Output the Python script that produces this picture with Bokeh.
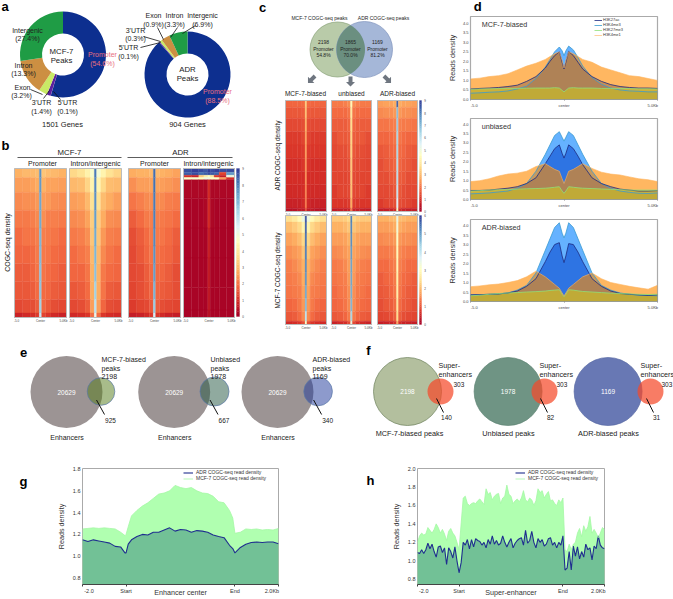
import numpy as np
from bokeh.embed import file_html
from bokeh.resources import INLINE
from bokeh.plotting import figure
from bokeh.layouts import column, row
from bokeh.core.properties import value
from bokeh.models import ColumnDataSource, LinearColorMapper, Range1d, FixedTicker, Legend, LegendItem
from bokeh.transform import transform
from bokeh.palettes import RdYlBu

# ---------- values ----------
pie_labels = ["Promoter", "5'UTR", "3'UTR", "Exon", "Intron", "Intergenic"]
pie_mcf7 = [54.6, 0.1, 1.4, 3.2, 13.3, 27.4]
pie_adr = [88.5, 0.1, 0.3, 0.9, 3.3, 6.9]

B1 = [[2.8,2.9,2.9,3.0,7.6,3.1,3.0,2.9,2.8],[2.5,2.5,2.6,2.7,7.5,2.8,2.6,2.6,2.5],[2.2,2.3,2.3,2.4,7.3,2.5,2.4,2.3,2.2],
      [2.0,2.0,2.1,2.2,7.2,2.3,2.1,2.1,2.0],[1.8,1.9,1.9,2.1,7.0,2.1,2.0,1.9,1.8],[1.7,1.7,1.8,2.0,6.9,2.0,1.9,1.8,1.7],
      [1.6,1.6,1.7,1.9,6.8,1.9,1.8,1.7,1.6],[1.5,1.5,1.6,1.8,6.7,1.8,1.7,1.6,1.5],[1.3,1.4,1.4,1.6,6.4,1.7,1.5,1.4,1.3],
      [0.7,0.8,0.9,1.1,5.8,1.2,1.0,0.8,0.7]]
B2 = [[3.5,3.7,4.1,4.7,8.0,4.8,4.2,3.7,3.4],[2.9,3.0,3.4,4.2,7.8,4.2,3.5,3.0,2.9],[2.5,2.6,2.9,3.7,7.6,3.7,3.0,2.7,2.5],
      [2.2,2.3,2.6,3.3,7.4,3.3,2.7,2.3,2.2],[2.0,2.1,2.3,3.1,7.2,3.1,2.4,2.1,2.0],[1.8,1.9,2.1,2.9,7.0,2.9,2.2,1.9,1.8],
      [1.7,1.7,1.9,2.8,6.8,2.8,2.0,1.8,1.7],[1.5,1.6,1.8,2.7,6.4,2.7,1.9,1.6,1.5],[1.3,1.4,1.6,2.5,6.0,2.5,1.7,1.4,1.3],
      [0.8,0.9,1.0,1.8,5.2,1.8,1.0,0.9,0.8]]
B3 = [[2.7,2.8,2.8,2.9,8.2,2.9,2.8,2.7,2.6],[2.3,2.5,2.5,2.6,8.1,2.6,2.5,2.4,2.3],[1.9,2.1,2.2,2.3,8.0,2.3,2.2,2.1,2.0],
      [1.6,1.8,2.0,2.1,7.9,2.1,2.0,1.9,1.8],[1.4,1.6,1.8,2.0,7.8,2.0,1.9,1.8,1.6],[1.3,1.5,1.7,1.9,7.6,1.9,1.8,1.7,1.5],
      [1.3,1.4,1.6,1.8,7.4,1.8,1.7,1.6,1.4],[1.2,1.4,1.5,1.7,7.1,1.7,1.6,1.5,1.4],[1.1,1.2,1.3,1.5,6.6,1.6,1.4,1.3,1.2],
      [0.6,0.7,0.8,1.0,5.6,1.0,0.8,0.7,0.6]]
B4 = [[8.6,8.8,8.7,8.5,8.8,8.6,8.8,8.6,8.7],[8.4,8.6,8.2,8.4,8.6,8.5,8.3,1.2,7.5],[0.9,0.7,3.2,4.0,4.6,3.8,1.0,0.6,5.0],
      [4.6,4.7,4.5,5.0,5.0,4.6,4.5,2.5,0.9],[0.2,0.2,0.2,0.2,0.9,0.2,0.2,0.2,0.2],[0.1,0.1,0.1,0.2,0.9,0.2,0.1,0.1,0.1],
      [0.1,0.1,0.1,0.1,0.7,0.1,0.1,0.1,0.1],[0.1,0.1,0.1,0.1,0.6,0.1,0.1,0.1,0.1],[0.1,0.1,0.1,0.1,0.5,0.1,0.1,0.1,0.1],
      [0.1,0.1,0.1,0.1,0.4,0.1,0.1,0.1,0.1]]
C1 = [[1.7,1.7,1.7,1.8,3.2,1.8,1.7,1.7,1.7],[1.5,1.5,1.5,1.6,3.0,1.6,1.5,1.5,1.5],[1.3,1.3,1.3,1.4,2.7,1.4,1.3,1.3,1.3],
      [1.1,1.1,1.1,1.2,2.5,1.2,1.1,1.1,1.1],[1.0,1.0,1.0,1.1,2.4,1.1,1.0,1.0,1.0],[0.9,0.9,0.9,1.0,2.3,1.0,0.9,0.9,0.9],
      [0.9,0.9,0.9,0.9,2.2,0.9,0.9,0.9,0.9],[0.8,0.8,0.8,0.9,2.1,0.9,0.8,0.8,0.8],[0.7,0.7,0.7,0.8,1.9,0.8,0.7,0.7,0.7],
      [0.4,0.4,0.5,0.5,1.4,0.5,0.5,0.4,0.4]]
C2 = [[2.0,2.0,2.1,2.2,4.4,2.2,2.1,2.0,2.0],[1.8,1.8,1.8,1.9,4.0,1.9,1.8,1.8,1.8],[1.6,1.6,1.6,1.7,3.7,1.7,1.6,1.6,1.6],
      [1.4,1.5,1.5,1.6,3.5,1.6,1.5,1.5,1.4],[1.3,1.4,1.4,1.5,3.4,1.5,1.4,1.4,1.3],[1.2,1.3,1.3,1.4,3.3,1.4,1.3,1.3,1.2],
      [1.2,1.2,1.2,1.3,3.2,1.3,1.2,1.2,1.2],[1.1,1.2,1.2,1.3,3.1,1.3,1.2,1.2,1.1],[1.0,1.0,1.0,1.1,2.8,1.1,1.0,1.0,1.0],
      [0.5,0.6,0.6,0.7,2.1,0.7,0.6,0.6,0.5]]
C3 = [[2.5,2.6,2.6,2.7,8.3,2.7,2.6,2.6,2.5],[2.2,2.3,2.3,2.4,6.8,2.4,2.3,2.3,2.2],[1.9,1.9,2.0,2.1,6.5,2.1,2.0,2.0,1.9],
      [1.7,1.7,1.8,1.9,6.3,1.9,1.8,1.7,1.7],[1.5,1.6,1.7,1.8,6.2,1.8,1.7,1.6,1.5],[1.4,1.5,1.6,1.7,6.1,1.7,1.6,1.5,1.4],
      [1.4,1.4,1.5,1.6,6.0,1.6,1.5,1.4,1.4],[1.3,1.3,1.4,1.5,5.8,1.5,1.4,1.3,1.3],[1.1,1.2,1.3,1.4,5.4,1.4,1.3,1.2,1.1],
      [0.6,0.6,0.7,0.8,4.6,0.8,0.7,0.6,0.6]]
C4 = [[3.6,3.9,4.3,5.0,8.6,5.0,4.3,3.9,3.6],[3.0,3.2,3.5,4.2,8.4,4.2,3.5,3.2,3.0],[2.6,2.7,3.0,3.5,8.2,3.5,3.0,2.7,2.6],
      [2.3,2.4,2.6,3.1,8.0,3.1,2.6,2.4,2.3],[2.1,2.2,2.4,2.8,7.8,2.8,2.4,2.2,2.1],[2.0,2.1,2.2,2.7,7.6,2.7,2.2,2.1,2.0],
      [1.9,2.0,2.1,2.6,7.3,2.6,2.1,2.0,1.9],[1.7,1.8,2.0,2.4,6.9,2.4,2.0,1.8,1.7],[1.5,1.6,1.8,2.2,6.0,2.2,1.8,1.6,1.5],
      [0.8,0.9,1.0,1.4,4.6,1.4,1.0,0.9,0.8]]
C5 = [[3.2,3.2,3.3,3.5,7.9,3.5,3.3,3.2,3.2],[2.8,2.8,2.9,3.1,7.8,3.1,2.9,2.8,2.8],[2.5,2.5,2.6,2.8,7.6,2.8,2.6,2.5,2.5],
      [2.2,2.3,2.4,2.6,7.4,2.6,2.4,2.3,2.2],[2.0,2.1,2.2,2.5,7.3,2.5,2.2,2.1,2.0],[1.9,2.0,2.1,2.4,7.2,2.4,2.1,2.0,1.9],
      [1.8,1.9,2.0,2.3,7.1,2.3,2.0,1.9,1.8],[1.7,1.8,1.9,2.2,6.9,2.2,1.9,1.8,1.7],[1.5,1.6,1.7,2.0,6.3,2.0,1.7,1.6,1.5],
      [0.7,0.8,0.9,1.3,5.0,1.3,0.9,0.8,0.7]]
C6 = [[2.8,2.8,2.9,3.0,5.2,3.0,2.9,2.8,2.8],[2.5,2.5,2.6,2.7,4.9,2.7,2.6,2.5,2.5],[2.2,2.3,2.3,2.4,4.6,2.4,2.3,2.3,2.2],
      [2.0,2.0,2.1,2.2,4.4,2.2,2.1,2.0,2.0],[1.8,1.8,1.9,2.1,4.3,2.1,1.9,1.8,1.8],[1.6,1.7,1.8,2.0,4.2,2.0,1.8,1.7,1.6],
      [1.5,1.6,1.7,1.9,4.1,1.9,1.7,1.6,1.5],[1.4,1.5,1.6,1.8,3.9,1.8,1.6,1.5,1.4],[1.2,1.3,1.4,1.6,3.6,1.6,1.4,1.3,1.2],
      [0.6,0.7,0.7,0.9,2.7,0.9,0.7,0.7,0.6]]

d_x = [-5,-4.5,-4,-3.5,-3,-2.5,-2,-1.5,-1,-.75,-.5,-.25,-.1,0,.1,.25,.5,.75,1,1.5,2,2.5,3,3.5,4,4.5,5]
d1_ac   = [.55,.58,.6,.63,.68,.75,.95,1.2,1.65,2.0,2.3,2.5,1.95,1.6,1.95,2.52,2.3,1.95,1.6,1.2,.95,.78,.68,.63,.6,.6,.58]
d1_me3k4 = [.33,.35,.38,.4,.45,.55,.7,1.1,1.7,2.1,2.5,2.75,2.55,2.3,2.55,2.8,2.6,2.2,1.75,1.15,.8,.6,.5,.45,.43,.4,.4]
d1_me3k27 = [.53,.55,.56,.57,.58,.58,.59,.6,.6,.6,.62,.6,.48,.4,.48,.6,.62,.6,.6,.6,.58,.58,.58,.57,.56,.56,.55]
d1_me1  = [1.08,1.12,1.2,1.25,1.35,1.55,1.75,1.9,2.1,2.25,2.4,2.5,2.05,1.65,2.05,2.5,2.4,2.25,2.1,1.95,1.7,1.55,1.4,1.25,1.2,1.1,1.0]
d2_ac   = [.48,.48,.5,.55,.6,.68,.85,1.15,1.9,2.3,2.7,2.9,2.45,2.2,2.45,2.9,2.7,2.3,1.85,1.15,.85,.68,.55,.5,.45,.45,.47]
d2_me3k4 = [.3,.32,.35,.4,.45,.6,.85,1.5,2.4,2.9,3.4,3.6,3.3,3.1,3.3,3.6,3.4,2.9,2.4,1.5,.85,.6,.45,.38,.33,.32,.35]
d2_me3k27 = [.45,.47,.5,.52,.53,.55,.57,.58,.6,.62,.65,.68,.45,.33,.45,.68,.65,.62,.6,.58,.56,.54,.52,.5,.5,.5,.5]
d2_me1  = [.95,1.0,1.1,1.25,1.35,1.4,1.5,1.75,1.9,1.75,1.6,1.5,1.1,.85,1.1,1.5,1.6,1.75,1.9,1.65,1.45,1.35,1.3,1.2,1.1,1.05,.95]
d3_ac   = [.35,.36,.38,.4,.45,.55,.8,1.2,2.1,2.6,3.0,3.1,2.4,2.05,2.4,3.05,3.0,2.6,2.1,1.2,.8,.55,.42,.38,.35,.32,.35]
d3_me3k4 = [.35,.36,.38,.4,.45,.6,.85,1.5,2.7,3.3,3.9,4.15,3.6,3.35,3.6,4.15,3.9,3.3,2.7,1.5,.85,.6,.45,.38,.33,.32,.3]
d3_me3k27 = [.3,.33,.38,.42,.45,.47,.5,.52,.55,.58,.6,.62,.38,.25,.38,.62,.6,.56,.53,.5,.47,.44,.42,.4,.38,.37,.38]
d3_me1  = [.78,.82,.88,.92,1.0,1.1,1.3,1.6,1.3,1.1,.9,.7,.45,.3,.45,.7,.9,1.1,1.3,1.5,1.2,1.0,.9,.8,.72,.65,.85]

g_x = [-2,-1.75,-1.5,-1.25,-1,-.75,-.5,-.25,-.05,0,.1,.25,.5,.75,1,1.25,1.5,1.75,2,2.25,2.5,2.75,3,3.25,3.5,3.75,4,4.25,4.5,4.75,4.9,5,5.25,5.5,5.75,6,6.25,6.5,6.75,7]
g_mcf = [1.25,1.255,1.26,1.255,1.26,1.255,1.25,1.22,1.19,1.2,1.27,1.37,1.42,1.46,1.49,1.53,1.57,1.58,1.6,1.65,1.63,1.62,1.63,1.6,1.58,1.575,1.55,1.5,1.49,1.42,1.35,1.21,1.22,1.25,1.245,1.25,1.24,1.245,1.24,1.255]
g_adr = [1.15,1.135,1.15,1.14,1.13,1.12,1.09,1.085,1.03,1.03,1.11,1.15,1.18,1.2,1.195,1.22,1.22,1.24,1.26,1.23,1.245,1.24,1.22,1.235,1.23,1.22,1.195,1.18,1.17,1.1,1.07,1.03,1.08,1.11,1.125,1.13,1.125,1.13,1.13,1.115]

h_x = [round(-2 + i * 0.1, 1) for i in range(91)]
h_mcf = [1.2,1.27,1.3,1.28,1.29,1.36,1.33,1.3,1.34,1.4,1.36,1.3,1.34,1.29,1.22,1.32,1.35,1.3,1.27,1.2,1.12,
         1.4,1.68,1.7,1.62,1.6,1.62,1.63,1.62,1.65,1.67,1.64,1.61,1.78,1.72,1.74,1.66,1.7,1.72,1.73,1.62,1.68,1.7,1.82,1.72,1.7,1.62,1.65,1.67,1.64,1.68,1.76,1.66,1.64,1.68,1.66,1.6,1.65,1.78,1.74,1.76,1.68,1.72,1.75,1.65,1.66,1.62,1.6,1.66,1.63,1.68,
         1.12,1.1,1.18,1.12,1.18,1.2,1.3,1.35,1.26,1.38,1.32,1.37,1.48,1.3,1.34,1.3,1.25,1.3,1.36,1.34]
h_adr = [1.09,1.08,1.12,1.08,1.12,1.19,1.13,1.18,1.1,1.04,1.15,1.16,1.09,1.14,.96,1.14,1.1,1.03,1.15,1.0,.87,
         .98,1.2,1.17,1.23,1.13,1.23,1.15,1.24,1.22,1.21,1.17,1.2,1.14,1.23,1.18,1.27,1.18,1.22,1.17,1.19,1.27,1.2,1.15,1.2,1.24,1.14,1.19,1.22,1.24,1.25,1.17,1.33,1.19,1.22,1.32,1.2,1.14,1.24,1.2,1.23,1.16,1.18,1.24,1.25,1.17,1.2,1.14,1.2,1.17,1.27,
         .9,.92,1.1,.9,1.16,1.05,1.15,1.02,1.1,1.04,1.18,1.12,1.14,1.01,1.16,1.13,1.27,1.17,1.14,1.13]

# ---------- styles ----------
FONT = value("Liberation Sans")
pie_colors = ["#0d2f8f", "#6b2fa0", "#5b1f9e", "#c9ea66", "#cc8f42", "#1f9c45"]
PINK = "#e8707f"
rb = list(RdYlBu[11])[::-1]
def _hex(c): return [int(c[i:i+2], 16) for i in (1, 3, 5)]
_rgb = np.array([_hex(c) for c in rb], float)
_t = np.linspace(0, 10, 128)
palette = ["#%02x%02x%02x" % tuple(int(round(np.interp(t, range(11), _rgb[:, k]))) for k in range(3)) for t in _t]
mapper = LinearColorMapper(palette=palette, low=0, high=9)
COL_KB = [-5, -3.4, -2, -1, -.22, .22, 1, 2, 3.4, 5]
ROW_F = [0, .06, .16, .28, .4, .52, .64, .76, .88, .97, 1]
ROW_B4 = [0, .025, .045, .06, .075, .2, .4, .6, .8, .95, 1]


def txt(f, x, y, s, size=7, color="#222222", align="center", baseline="middle", angle=0, bold=False):
    f.text([x], [y], text=[s], text_font=FONT, text_font_size=f"{size}px", text_color=color,
           text_align=align, text_baseline=baseline, angle=angle,
           text_font_style="bold" if bold else "normal")


def seg(f, x0, y0, x1, y1, color="#111111", w=0.8):
    f.segment([x0], [y0], [x1], [y1], line_color=color, line_width=w)


def canvas(x0, x1, y0, y1):
    f = figure(width=x1 - x0, height=y1 - y0, x_range=Range1d(x0, x1), y_range=Range1d(y1, y0),
               output_backend="svg", toolbar_location=None, min_border=0)
    f.axis.visible = False
    f.grid.visible = False
    f.outline_line_color = None
    return f


def heat(f, mat, x0, x1, y0, y1, rows=ROW_F):
    L, R, T, B, V = [], [], [], [], []
    for i, r in enumerate(mat):
        for j, v in enumerate(r):
            L.append(x0 + (COL_KB[j] + 5) / 10 * (x1 - x0))
            R.append(x0 + (COL_KB[j + 1] + 5) / 10 * (x1 - x0))
            T.append(y0 + rows[i] * (y1 - y0))
            B.append(y0 + rows[i + 1] * (y1 - y0))
            V.append(v)
    src = ColumnDataSource(dict(l=L, r=R, t=T, b=B, v=V))
    tr = transform("v", mapper)
    f.quad(left="l", right="r", top="t", bottom="b", source=src, fill_color=tr, line_color=tr, line_width=0.3)
    f.quad(left=[x0], right=[x1], top=[y0], bottom=[y1], fill_color=None, line_color="#bbbbbb", line_width=1)
    ly = y1 + 3
    txt(f, x0 + 2, ly, "-5.0", 3, "#444444")
    txt(f, (x0 + x1) / 2, ly, "Center", 3, "#444444")
    txt(f, x1 - 3, ly, "5.0Kb", 3, "#444444")


def cbar(f, x0, x1, y0, y1, labels):
    vals = [9 * i / 60 for i in range(60)]
    h = (y1 - y0) / 60
    src = ColumnDataSource(dict(l=[x0] * 60, r=[x1] * 60, t=[y1 - (i + 1) * h for i in range(60)],
                                b=[y1 - i * h for i in range(60)], v=vals))
    tr = transform("v", mapper)
    f.quad(left="l", right="r", top="t", bottom="b", source=src, fill_color=tr, line_color=tr, line_width=0.3)
    for i, s in enumerate(labels):
        txt(f, x1 + 3.5, y1 - i * (y1 - y0) / (len(labels) - 1), s, 3, "#444444")


def donut(f, cx, cy, vals, R, r):
    a = np.cumsum([0] + vals) / sum(vals) * 2 * np.pi
    f.annular_wedge([cx] * len(vals), [cy] * len(vals), r, R, list(np.pi / 2 - a[:-1]), list(np.pi / 2 - a[1:]),
                    direction="clock", fill_color=pie_colors, line_color=None)


def lens(f, x1, r1, x2, r2, y, color):
    d = x2 - x1
    a = (d * d + r1 * r1 - r2 * r2) / (2 * d)
    h = np.sqrt(r1 * r1 - a * a)
    t1 = np.arctan2(h, a)
    t2 = np.arctan2(h, d - a)
    s1 = np.linspace(-t1, t1, 30)
    s2 = np.linspace(np.pi - t2, np.pi + t2, 30)
    f.patch(list(x1 + r1 * np.cos(s1)) + list(x2 + r2 * np.cos(s2)),
            list(y + r1 * np.sin(s1)) + list(y + r2 * np.sin(s2)), fill_color=color, line_color=None)


# ---------- left block: panels a, b, c ----------
top = canvas(0, 441, 0, 338)
donut(top, 62.5, 54, pie_mcf7, 43, 21)
donut(top, 187, 74, pie_adr, 43, 21)
txt(top, 1, 6, "a", 13, "#000000", "left", bold=True)
for x, y, s, c in [(27, 30, "Intergenic", None), (27, 38, "(27.4%)", None), (102, 54, "Promoter", PINK), (102, 63, "(54.6%)", PINK),
                   (23, 65, "Intron", None), (23, 73, "(13.3%)", None), (22, 87, "Exon", None), (21, 95, "(3.2%)", None),
                   (41, 102, "3'UTR", None), (41, 111, "(1.4%)", None), (67, 102, "5'UTR", None), (67, 111, "(0.1%)", None),
                   (153, 15, "Exon", None), (153, 24, "(0.9%)", None), (174, 15, "Intron", None), (174, 24, "(3.3%)", None),
                   (202, 15, "Intergenic", None), (202, 24, "(6.9%)", None), (135, 30, "3'UTR", None), (135, 38, "(0.3%)", None),
                   (128, 47, "5'UTR", None), (128, 56, "(0.1%)", None), (217, 91, "Promoter", PINK), (217, 100, "(88.5%)", PINK)]:
    txt(top, x, y, s, 7, c or "#222222")
for x, y, s in [(61, 51, "MCF-7"), (61, 60, "Peaks"), (187, 69, "ADR"), (187, 78, "Peaks")]:
    txt(top, x, y, s, 7.8)
txt(top, 62, 124, "1501 Genes", 7.5)
txt(top, 187, 124, "904 Genes", 7.5)
for c in [(30, 89, 42, 94), (43, 98, 49, 90), (60, 99, 53, 91), (157, 27, 163, 39), (177, 27, 170, 37), (195, 25, 182, 33),
          (143, 36, 160, 41), (140, 47, 160, 42)]:
    seg(top, *c)

txt(top, 1, 145, "b", 13, "#000000", "left", bold=True)
txt(top, 69, 152, "MCF-7", 7.8)
txt(top, 180, 152, "ADR", 7.8)
seg(top, 17, 157, 121, 157, "#333333", 0.8)
seg(top, 127, 157, 232, 157, "#333333", 0.8)
for x, s in [(42, "Promoter"), (95, "Intron/intergenic"), (154, "Promoter"), (208, "Intron/intergenic")]:
    txt(top, x, 163, s, 7)
txt(top, 7, 242, "COGC-seq density", 7, angle=np.pi / 2)
heat(top, B1, 14, 66, 168, 317)
heat(top, B2, 69, 121, 168, 317)
heat(top, B3, 128, 180, 168, 317)
heat(top, B4, 183, 234, 168, 317, ROW_B4)
cbar(top, 236, 239, 168, 316, [str(i) for i in range(10)])

txt(top, 262, 7, "c", 13, "#000000", bold=True)
txt(top, 319, 17, "MCF-7 COGC-seq peaks", 5)
txt(top, 383, 17, "ADR COGC-seq peaks", 5)
top.circle([337], [49], radius=27.5, fill_color="#b9cba9", line_color="#8aa27a", line_width=0.7)
top.circle([364], [49], radius=28, fill_color="#a5b7d8", line_color="#7f94bd", line_width=0.7)
lens(top, 337, 27.5, 364, 28, 49, "#6b8f80")
for x, ls in [(323, ["2198", "Promoter", "54.8%"]), (350, ["1865", "Promoter", "70.0%"]), (377, ["1169", "Promoter", "81.2%"])]:
    for y, s in zip([41, 48, 54], ls):
        txt(top, x, y, s, 5)
for cx, cy, ang in [(311, 79, 225), (350, 81, 270), (387, 79, 315)]:
    t = np.deg2rad(ang)
    u = np.array([np.cos(t), -np.sin(t)])
    v_ = np.array([-u[1], u[0]])
    pts = [(-5, -2), (0.5, -2), (0.5, -4.5), (5, 0), (0.5, 4.5), (0.5, 2), (-5, 2)]
    top.patch([cx + a * u[0] + b * v_[0] for a, b in pts], [cy + a * u[1] + b * v_[1] for a, b in pts],
              fill_color="#6f7680", line_color=None)
for x, s in [(305, "MCF-7-biased"), (351, "unbiased"), (397, "ADR-biased")]:
    txt(top, x, 93, s, 6.5)
txt(top, 277, 155, "ADR COGC-seq density", 6.5, angle=np.pi / 2)
txt(top, 277, 270, "MCF-7 COGC-seq density", 6.5, angle=np.pi / 2)
heat(top, C1, 285, 326, 100, 211)
heat(top, C2, 331, 371, 100, 211)
heat(top, C3, 377, 417, 100, 211)
heat(top, C4, 285, 326, 215, 324)
heat(top, C5, 331, 371, 215, 324)
heat(top, C6, 377, 417, 215, 324)
cbar(top, 419, 421, 100, 211, [str(i) for i in range(10)])
cbar(top, 419, 421, 215, 324, [str(i) for i in range(7)])


# ---------- panel d ----------
d_head = canvas(441, 673, 0, 14)
txt(d_head, 450, 6, "d", 13, "#000000", bold=True)


def dpanel(title, y_max, h, b_top, b_bottom, ac, k4, k27, me1, legend=False):
    f = figure(width=232, height=h, x_range=Range1d(-5, 5), y_range=Range1d(0, y_max), output_backend="svg",
               toolbar_location=None, min_border_left=29, min_border_right=16, min_border_top=b_top, min_border_bottom=b_bottom)
    base = [0] * len(d_x)
    f.varea(d_x, base, k4, fill_color="#3a9cff", fill_alpha=0.78)
    f.varea(d_x, base, ac, fill_color="#0a4bd0", fill_alpha=0.6)
    f.varea(d_x, base, me1, fill_color="#ff8a00", fill_alpha=0.62)
    f.varea(d_x, base, k27, fill_color="#d9e60a", fill_alpha=0.4)
    l1 = f.line(d_x, k4, line_color="#3a9ad0", line_width=0.8)
    l2 = f.line(d_x, ac, line_color="#1c2a80", line_width=0.8)
    l3 = f.line(d_x, k27, line_color="#8fe07a", line_width=0.8)
    l4 = f.line(d_x, me1, line_color="#ffb45c", line_width=0.6)
    f.grid.visible = False
    f.outline_line_color = "#aaaaaa"
    f.outline_line_width = 1.2
    f.yaxis.ticker = FixedTicker(ticks=[0, .5, 1, 1.5, 2, 2.5, 3, 3.5, 4])
    f.yaxis.major_label_overrides = {0: "0.0", 0.5: "0.5", 1: "1.0", 1.5: "1.5", 2: "2.0", 2.5: "2.5", 3: "3.0", 3.5: "3.5", 4: "4.0"}
    f.xaxis.ticker = FixedTicker(ticks=[-4.8, 0, 4.75], minor_ticks=[-5, 0, 5])
    f.xaxis.major_label_overrides = {-4.8: "-5.0", 0: "center", 4.75: "5.0Kb"}
    for ax in (f.xaxis[0], f.yaxis[0]):
        ax.axis_line_color = None
        ax.major_label_text_font = "Liberation Sans"
        ax.major_label_text_font_size = "4px"
        ax.major_label_text_color = "#444444"
        ax.major_label_standoff = 2
        ax.major_tick_out = 0
        ax.major_tick_in = 0
    f.xaxis.major_tick_line_color = None
    f.xaxis.minor_tick_line_color = "#888888"
    f.xaxis.minor_tick_out = 1
    f.xaxis.minor_tick_in = 0
    f.yaxis.major_tick_line_color = None
    f.yaxis.minor_tick_line_color = None
    f.yaxis.axis_label = "Reads density"
    f.yaxis.axis_label_text_font = "Liberation Sans"
    f.yaxis.axis_label_text_font_style = "normal"
    f.yaxis.axis_label_text_font_size = "7.3px"
    f.yaxis.axis_label_text_color = "#333333"
    f.yaxis.axis_label_standoff = 3
    f.text([-4.4], [y_max - 0.42], text=[title], text_font=FONT, text_font_size="7.2px", text_color="#333333",
           text_baseline="middle")
    if legend:
        lg = Legend(items=[LegendItem(label="H3K27ac", renderers=[l2]), LegendItem(label="H3K4me3", renderers=[l1]),
                           LegendItem(label="H3K27me3", renderers=[l3]), LegendItem(label="H3K4me1", renderers=[l4])],
                    location=(124, 62), background_fill_alpha=0, border_line_color=None, padding=0, margin=0, spacing=0,
                    glyph_height=4, glyph_width=8, label_height=4, label_standoff=1, label_text_font_size="4px",
                    label_text_font="Liberation Sans", label_text_color="#333333", label_text_line_height=1.0)
        f.add_layout(lg, "center")
    return f


d1 = dpanel("MCF-7-biased", 4.35, 96, 2, 11, d1_ac, d1_me3k4, d1_me3k27, d1_me1, legend=True)
d2 = dpanel("unbiased", 4.30, 100, 8, 10, d2_ac, d2_me3k4, d2_me3k27, d2_me1)
d3 = dpanel("ADR-biased", 4.32, 128, 9, 37, d3_ac, d3_me3k4, d3_me3k27, d3_me1)

# ---------- panels e, f ----------
mid = canvas(0, 673, 338, 446)
txt(mid, 23, 352, "e", 13, "#000000", bold=True)
txt(mid, 368, 350, "f", 13, "#000000", bold=True)
for bx, sx, sr, col, lab, tot, ov, lx in [(66, 100.5, 13.8, "#517915", "MCF-7-biased", "2198", "925", 101),
                                          (173.7, 214, 14.5, "#22553f", "Unbiased", "1978", "667", 210),
                                          (277, 317.6, 14.3, "#1c3599", "ADR-biased", "1169", "340", 312)]:
    mid.circle([bx], [391.5], radius=36, fill_color="#9c9494", line_color=None)
    mid.circle([sx], [391], radius=sr, fill_color=col, fill_alpha=0.5, line_color="#5a78a8", line_width=0.7)
    txt(mid, bx, 391.5, "20629", 6.5, "#ffffff")
    txt(mid, lx, 359, lab, 7, align="left")
    txt(mid, lx, 368, "peaks", 7, align="left")
    txt(mid, lx, 376, tot, 7, align="left")
    txt(mid, sx + 9.5, 419.5, ov, 6.5)
    seg(mid, sx - 4.5, 399.5, sx + 3.5, 414, "#111111", 1)
    txt(mid, bx + 0.5, 437, "Enhancers", 7)
for bx, r, col, edge, tot, sx, ov, name, nx, lx, n3 in [
        (407, 34, "#b3bf9e", "#6b7f5a", "2198", 440, "140", "MCF-7-biased peaks", 409, 438, 453),
        (507.6, 34, "#6f9484", "#5f8474", "1978", 544, "82", "Unbiased peaks", 508, 539, 556),
        (607.6, 34, "#6878b4", "#5868a4", "1169", 650, "31", "ADR-biased peaks", 608, 640, 661)]:
    mid.circle([bx], [391], radius=r, fill_color=col, line_color=edge, line_width=0.7)
    mid.circle([sx], [391], radius=13, fill_color="#f5492a", fill_alpha=0.72, line_color=None)
    txt(mid, bx, 391, tot, 6.5, "#ffffff")
    txt(mid, lx, 365, "Super-", 7.2, align="left")
    txt(mid, lx, 374, "enhancers", 7.2, align="left")
    txt(mid, n3, 384, "303", 6.5, align="left")
    txt(mid, sx + 6, 417, ov, 6.5)
    seg(mid, sx - 4, 398, sx + 3, 412, "#111111", 1)
    txt(mid, nx, 433, name, 7.3)


# ---------- panels g, h ----------
g_side = canvas(0, 45, 446, 599)
txt(g_side, 23, 463, "g", 13, "#000000", bold=True)
h_side = canvas(336, 385, 446, 599)
txt(h_side, 370, 462, "h", 13, "#000000", bold=True)


def body(x, mcf, adr, w, left, right, y_lo, y_hi, yticks, xlabel, leg_x):
    f = figure(width=w, height=153, x_range=Range1d(-2, 7), y_range=Range1d(y_lo, y_hi), output_backend="svg",
               toolbar_location=None, min_border_left=left, min_border_right=right, min_border_top=22, min_border_bottom=15)
    base = [0] * len(x)
    f.varea(x, base, mcf, fill_color="#b0ffb0")
    f.varea(x, base, adr, fill_color="#72c196")
    l1 = f.line(x, adr, line_color="#1f2e8f", line_width=1.1)
    l2 = f.line(x, mcf, line_color="#a4f8a4", line_width=0.8)
    f.grid.visible = False
    f.outline_line_color = "#aaaaaa"
    f.outline_line_width = 1
    f.yaxis.ticker = FixedTicker(ticks=yticks)
    f.yaxis.major_label_overrides = {t: f"{t:.1f}" for t in yticks}
    f.xaxis.ticker = FixedTicker(ticks=[-1.7, 0, 5, 6.7], minor_ticks=[-2, 0, 5, 7])
    f.xaxis.major_label_overrides = {-1.7: "-2.0", 0: "Start", 5: "End", 6.7: "2.0Kb"}
    for ax in (f.xaxis[0], f.yaxis[0]):
        ax.major_label_text_font = "Liberation Sans"
        ax.major_label_text_font_size = "5.5px"
        ax.major_label_text_color = "#333333"
        ax.major_label_standoff = 1
        ax.major_tick_out = 0
        ax.major_tick_in = 0
        ax.axis_label_text_font = "Liberation Sans"
        ax.axis_label_text_font_style = "normal"
        ax.axis_label_text_font_size = "7.2px"
        ax.axis_label_text_color = "#333333"
    f.yaxis.major_label_standoff = 2
    f.yaxis.axis_line_color = None
    f.yaxis.major_tick_line_color = None
    f.yaxis.minor_tick_line_color = None
    f.yaxis.axis_label = "Reads density"
    f.yaxis.axis_label_standoff = 4
    f.xaxis.axis_line_color = "#444444"
    f.xaxis.major_tick_line_color = None
    f.xaxis.minor_tick_line_color = "#444444"
    f.xaxis.minor_tick_out = 2
    f.xaxis.minor_tick_in = 0
    f.xaxis.axis_label = xlabel
    f.xaxis.axis_label_standoff = -9
    lg = Legend(items=[LegendItem(label="ADR COGC-seq read density", renderers=[l1]),
                       LegendItem(label="MCF-7 COGC-seq read density", renderers=[l2])],
                location=(leg_x, 103), background_fill_alpha=0, border_line_color=None, padding=0, margin=0, spacing=0,
                glyph_height=5, glyph_width=10, label_height=5, label_standoff=3, label_text_font_size="5px",
                label_text_font="Liberation Sans", label_text_color="#333333", label_text_line_height=1.0)
    f.add_layout(lg, "center")
    return f


g = body(g_x, g_mcf, g_adr, 291, 37, 58, 0.74, 1.805, [.8, 1.0, 1.2, 1.4, 1.6, 1.8], "Enhancer center", 101)
h = body(h_x, h_mcf, h_adr, 288, 32, 69, 0.743, 2.0, [.8, 1.0, 1.2, 1.4, 1.6, 1.8, 2.0], "Super-enhancer", 98)

page = column(row(top, column(d_head, d1, d2, d3)), mid, row(g_side, g, h_side, h))
open("out.html", "w").write(file_html(page, INLINE))
